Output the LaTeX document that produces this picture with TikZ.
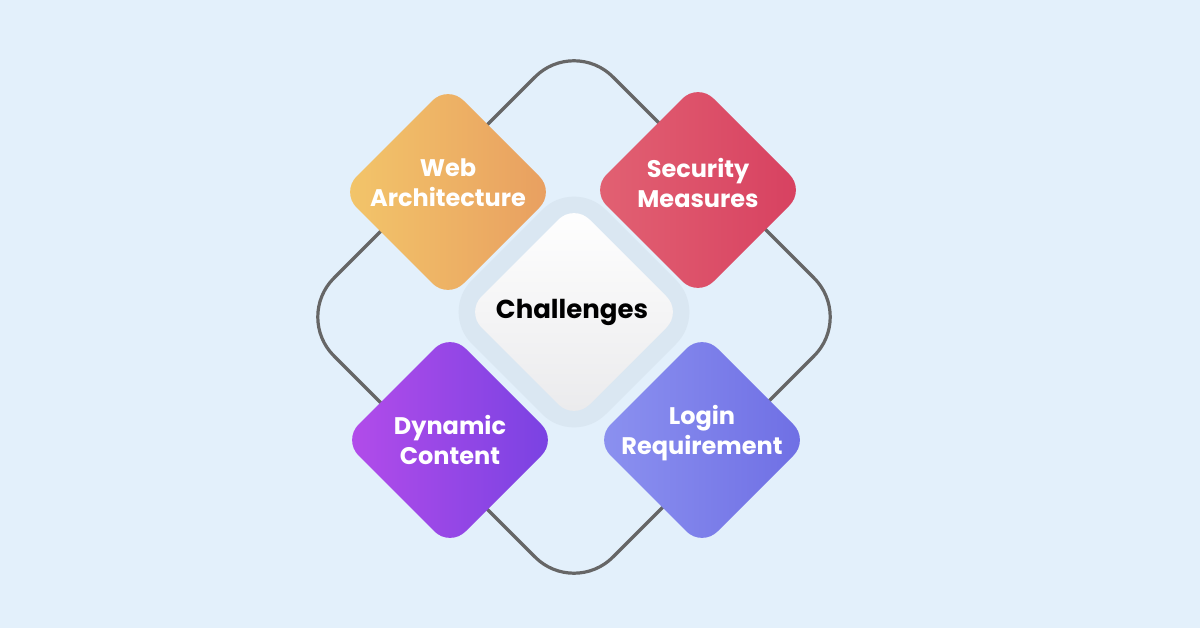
\documentclass[tikz,border=0pt]{standalone}
\usepackage{fontspec}
\setmainfont{Poppins}
\begin{document}
\begin{tikzpicture}[x=1pt,y=1pt,
  lbl/.style={font=\fontsize{24}{30}\selectfont\bfseries, text=white, align=center},
  ring/.style={draw=black!60, line width=3.2pt, rounded corners=55pt}]
\fill[fill={rgb,255:red,227;green,240;blue,251}] (0,0) rectangle (1200,-628);
\useasboundingbox (0,0) rectangle (1200,-628);
\newcommand{\rdia}[4]{% center x, y, half diag, options
  \path[#4, rounded corners=22pt] (#1-#3,-#2) -- (#1,-#2+#3) -- (#1+#3,-#2) -- (#1,-#2-#3) -- cycle;}
% outer ring
\draw[ring] (295,-317) -- (574,-38) -- (853,-317) -- (574,-596) -- cycle;
% halo
\fill[fill={rgb,255:red,218;green,231;blue,242}, rounded corners=45pt] (440,-312) -- (574,-178) -- (708,-312) -- (574,-446) -- cycle;
% diamonds
\rdia{448}{192}{107}{left color={rgb,255:red,243;green,198;blue,106}, right color={rgb,255:red,232;green,158;blue,96}}
\rdia{698}{190}{107}{left color={rgb,255:red,226;green,98;blue,115}, right color={rgb,255:red,215;green,64;blue,96}}
\rdia{450}{440}{107}{left color={rgb,255:red,180;green,76;blue,234}, right color={rgb,255:red,120;green,66;blue,226}}
\rdia{702}{440}{107}{left color={rgb,255:red,140;green,146;blue,240}, right color={rgb,255:red,110;green,110;blue,228}}
\rdia{574}{312}{108}{top color=white, bottom color={rgb,255:red,234;green,234;blue,236}}
\node[lbl] (web) at (448,-183) {Web\\Architecture};
\node[lbl] (sec) at (698,-183) {Security\\Measures};
\node[lbl] (dyn) at (450,-440) {Dynamic\\Content};
\node[lbl] (log) at (702,-433) {Login\\Requirement};
\node[lbl, text=black, font=\fontsize{26}{32}\selectfont\bfseries] (ch) at (572,-312) {Challenges};
\end{tikzpicture}
\end{document}
